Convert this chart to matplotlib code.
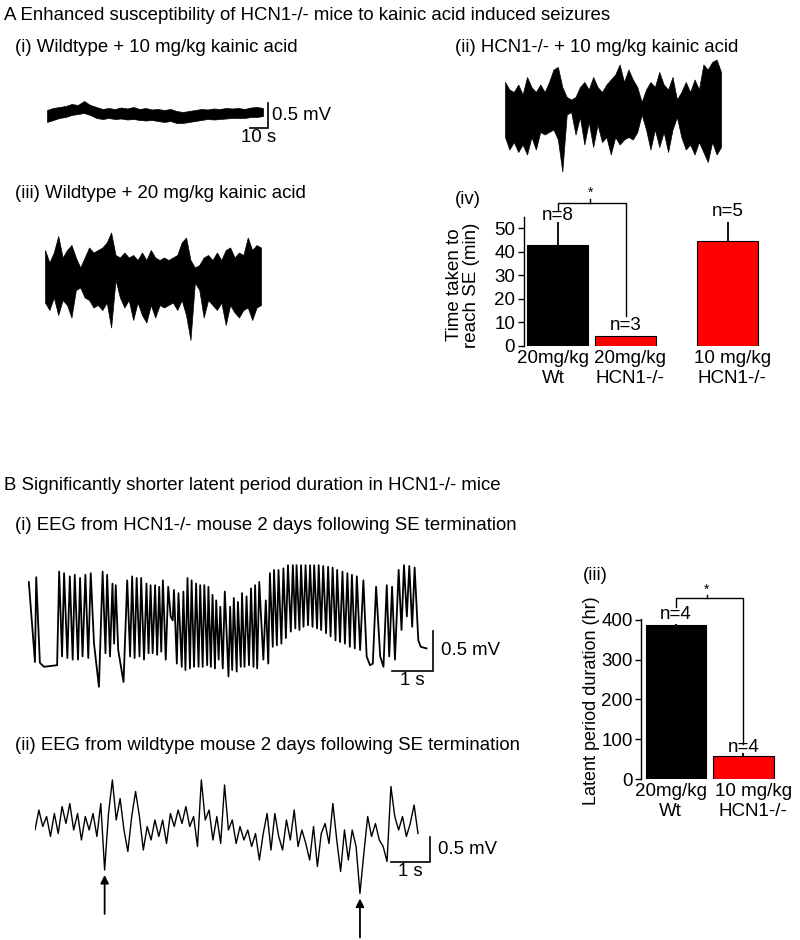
import matplotlib
matplotlib.use("Agg")
import matplotlib.pyplot as plt
import numpy as np

plt.rcParams['font.family'] = ['Liberation Sans', 'DejaVu Sans']

# --- A: EEG envelopes (mV) ---
a1_hi = [0.04, 0.08, 0.10, 0.12, 0.16, 0.14, 0.22, 0.14, 0.10, 0.06, 0.08, 0.06,
         0.09, 0.07, 0.10, 0.06, 0.08, 0.05, 0.06, 0.04, 0.06, 0.02, 0.00, 0.02,
         0.04, 0.06, 0.05, 0.07, 0.06, 0.08, 0.07, 0.08, 0.06, 0.09, 0.10, 0.08]
a1_lo = [-0.20, -0.16, -0.12, -0.10, -0.06, -0.04, -0.02, -0.06, -0.12, -0.14, -0.12, -0.14,
         -0.13, -0.15, -0.14, -0.16, -0.17, -0.16, -0.18, -0.20, -0.18, -0.22, -0.22, -0.20,
         -0.18, -0.16, -0.14, -0.15, -0.14, -0.13, -0.12, -0.12, -0.12, -0.10, -0.10, -0.08]

a2_hi = [0.50, 0.35, 0.30, 0.45, 0.25, 0.60, 0.40, 0.30, 0.45, 0.30,
         0.50, 0.75, 0.80, 0.40, 0.20, 0.15, 0.20, 0.40, 0.50, 0.35,
         0.60, 0.40, 0.30, 0.45, 0.55, 0.65, 0.85, 0.50, 0.75, 0.55,
         0.40, 0.10, 0.35, 0.50, 0.40, 0.70, 0.45, 0.35, 0.60, 0.15,
         0.30, 0.50, 0.30, 0.55, 0.35, 0.85, 0.75, 0.90, 0.95, 0.70]
a2_lo = [-0.60, -0.85, -0.70, -0.90, -0.75, -0.95, -0.60, -0.85, -0.50, -0.55,
         -0.50, -0.45, -0.65, -1.29, -0.15, -0.10, -0.55, -0.20, -0.75, -0.30,
         -0.80, -0.35, -0.70, -0.60, -0.95, -0.60, -0.75, -0.65, -0.60, -0.65,
         -0.50, -0.15, -0.45, -0.85, -0.45, -0.80, -0.50, -0.90, -0.45, -0.20,
         -0.60, -0.85, -0.75, -0.95, -0.70, -0.90, -1.10, -0.70, -0.95, -0.80]

a3_hi = [0.50, 0.25, 0.45, 0.78, 0.35, 0.50, 0.60, 0.35, 0.15, 0.35,
         0.55, 0.45, 0.50, 0.55, 0.65, 0.85, 0.40, 0.35, 0.45, 0.35,
         0.40, 0.30, 0.45, 0.30, 0.50, 0.35, 0.30, 0.35, 0.30, 0.35,
         0.40, 0.65, 0.75, 0.30, 0.15, 0.20, 0.35, 0.40, 0.30, 0.45,
         0.30, 0.50, 0.55, 0.35, 0.45, 0.40, 0.75, 0.50, 0.60, 0.55]
a3_lo = [-0.55, -0.70, -0.45, -0.80, -0.50, -0.60, -0.85, -0.30, -0.25, -0.45,
         -0.50, -0.65, -0.60, -0.70, -0.55, -1.05, -0.10, -0.45, -0.65, -0.50,
         -0.90, -0.55, -0.80, -0.95, -0.60, -0.85, -0.60, -0.65, -0.60, -0.55,
         -0.70, -0.50, -0.80, -1.30, -0.15, -0.30, -0.85, -0.50, -0.60, -0.70,
         -0.55, -1.00, -0.60, -0.75, -0.85, -0.70, -0.65, -0.90, -0.65, -0.60]

# --- B(i): peaks / troughs of HCN1-/- EEG (s, mV) ---
b1_t = [0.02, 0.17, 0.20, 0.29, 0.39, 0.71, 0.76, 0.83, 0.88, 0.96,
        1.02, 1.09, 1.14, 1.22, 1.27, 1.33, 1.40, 1.47, 1.53, 1.61,
        1.73, 1.82, 1.89, 1.93, 2.00, 2.06, 2.10, 2.14, 2.20, 2.33,
        2.42, 2.49, 2.54, 2.60, 2.65, 2.72, 2.76, 2.83, 2.89, 2.94,
        2.99, 3.04, 3.10, 3.15, 3.20, 3.25, 3.29, 3.36, 3.42, 3.48,
        3.53, 3.56, 3.63, 3.67, 3.75, 3.79, 3.84, 3.89, 3.95, 3.99,
        4.05, 4.10, 4.16, 4.20, 4.26, 4.30, 4.37, 4.40, 4.46, 4.50,
        4.56, 4.59, 4.65, 4.69, 4.75, 4.80, 4.89, 4.93, 4.98, 5.02,
        5.09, 5.12, 5.19, 5.22, 5.28, 5.33, 5.39, 5.44, 5.50, 5.54,
        5.59, 5.64, 5.74, 5.80, 5.86, 5.90, 5.97, 6.00, 6.07, 6.11,
        6.18, 6.23, 6.29, 6.34, 6.41, 6.46, 6.52, 6.55, 6.62, 6.66,
        6.72, 6.77, 6.83, 6.88, 6.94, 6.98, 7.05, 7.09, 7.15, 7.20,
        7.27, 7.32, 7.38, 7.43, 7.50, 7.54, 7.61, 7.67, 7.73, 7.79,
        7.85, 7.90, 7.97, 8.02, 8.10, 8.18, 8.26, 8.34, 8.41, 8.49,
        8.59, 8.67, 8.75, 8.81, 8.88, 8.95, 9.04, 9.11, 9.17, 9.24,
        9.30, 9.37, 9.43, 9.52, 9.58, 9.72]
b1_v = [0.85, -0.15, 0.91, -0.16, -0.21, -0.19, 0.98, -0.08, 0.96, -0.10,
        0.92, -0.12, 0.94, -0.12, 0.90, -0.08, 0.94, -0.10, 0.96, 0.08,
        -0.46, 0.98, -0.04, 0.94, -0.08, 0.83, 0.08, 0.81, 0.00, -0.40,
        0.87, -0.08, 0.92, -0.10, 0.90, -0.08, 0.90, -0.12, 0.83, -0.04,
        0.81, -0.04, 0.81, -0.06, 0.79, -0.02, 0.87, -0.12, 0.79, 0.42,
        0.37, 0.75, -0.17, 0.71, -0.21, 0.73, -0.25, 0.90, -0.23, 0.87,
        -0.21, 0.83, -0.21, 0.81, -0.21, 0.81, -0.19, 0.79, -0.21, 0.69,
        -0.23, 0.62, -0.12, 0.54, -0.23, 0.73, -0.33, 0.54, -0.25, 0.65,
        -0.27, 0.60, -0.21, 0.71, -0.21, 0.67, -0.19, 0.77, -0.21, 0.81,
        -0.23, 0.85, -0.12, 0.62, -0.17, 0.96, 0.04, 1.00, 0.06, 1.00,
        0.08, 1.02, 0.15, 1.06, 0.23, 1.06, 0.27, 1.06, 0.25, 1.06,
        0.29, 1.06, 0.31, 1.06, 0.29, 1.06, 0.27, 1.06, 0.25, 1.05,
        0.21, 1.04, 0.17, 1.03, 0.12, 1.00, 0.10, 0.98, 0.08, 0.96,
        0.04, 0.94, 0.02, 0.92, 0.00, 0.87, -0.08, -0.19, -0.17, 0.79,
        -0.08, -0.21, 0.81, -0.08, 0.79, -0.12, 1.00, 0.25, 1.06, 0.42,
        1.05, 0.29, 1.03, 0.12, 0.04, 0.02]

# --- B(ii): wildtype EEG samples (mV) ---
b2_v = [-0.06, 0.34, 0.01, 0.21, -0.19, 0.27, -0.13, 0.41, 0.07, 0.47,
        -0.06, 0.27, -0.26, 0.21, -0.06, 0.27, -0.19, 0.47, -0.86, 0.27,
        0.94, 0.14, 0.57, -0.06, -0.49, 0.21, 0.71, 0.21, -0.46, 0.01,
        -0.26, 0.14, -0.19, 0.14, -0.33, 0.27, 0.01, 0.34, 0.07, 0.41,
        0.01, 0.21, -0.39, 0.94, 0.14, 0.34, -0.26, 0.21, -0.33, 0.84,
        -0.06, 0.14, -0.33, 0.01, -0.26, -0.06, -0.39, -0.13, -0.66, -0.13,
        0.27, -0.46, 0.27, -0.19, -0.46, 0.14, -0.26, 0.34, -0.39, -0.06,
        -0.33, -0.66, 0.01, -0.79, -0.13, 0.07, -0.33, 0.47, -0.26, -0.89,
        -0.06, -0.66, -0.06, -0.39, -1.33, -0.53, 0.21, -0.19, 0.07, -0.26,
        -0.39, -0.69, 0.81, 0.21, -0.06, 0.21, -0.19, 0.07, 0.44, -0.13]
b2_arrows = [18, 84]  # samples marked by arrows

# --- bar charts ---
iv_labels = ['20mg/kg\nWt', '20mg/kg\nHCN1-/-', '10 mg/kg\nHCN1-/-']
iv_pos = [0, 1, 2.5]
iv_vals = [43, 4.3, 44.5]
iv_err = [9.5, 0, 8]
iv_n = ['n=8', 'n=3', 'n=5']

iii_labels = ['20mg/kg\nWt', '10 mg/kg\nHCN1-/-']
iii_pos = [0, 1]
iii_vals = [388, 58]
iii_err = [3, 7]
iii_n = ['n=4', 'n=4']

W, H = 800, 940
fig = plt.figure(figsize=(W / 100, H / 100), dpi=100)
FS = 13.4
CFS = 13.5


def ftext(px, py, s, **kw):
    kw.setdefault('fontsize', FS)
    kw.setdefault('va', 'center')
    fig.text(px / W, 1 - py / H, s, **kw)


def trace_ax(x0, x1, y0, y1, base, px_s, px_mv):
    ax = fig.add_axes([x0 / W, 1 - y1 / H, (x1 - x0) / W, (y1 - y0) / H])
    ax.set_xlim(0, (x1 - x0) / px_s)
    ax.set_ylim((base - y1) / px_mv, (base - y0) / px_mv)
    ax.axis('off')
    return ax


def scalebar(ax, t, v, dt, dv, tlabel, vlabel):
    ax.plot([t - dt, t, t], [v, v, v + dv], color='black', lw=1.2,
            solid_joinstyle='miter', clip_on=False)
    ax.text(t + 0.2 * dt, v + dv / 2, vlabel, fontsize=FS, va='center', ha='left')
    ax.text(t - dt / 2, v - 0.04 * dv, tlabel, fontsize=FS, va='top', ha='center')


def envelope(ax, hi, lo, dur):
    t = np.linspace(0, dur, len(hi))
    ax.fill_between(t, lo, hi, color='black', lw=0.5)


# titles
ftext(4, 15, 'A Enhanced susceptibility of HCN1-/- mice to kainic acid induced seizures')
ftext(15, 47, '(i) Wildtype + 10 mg/kg kainic acid')
ftext(455, 47, '(ii) HCN1-/- + 10 mg/kg kainic acid')
ftext(15, 193, '(iii) Wildtype + 20 mg/kg kainic acid')
ftext(455, 200, '(iv)')
ftext(4, 486, 'B Significantly shorter latent period duration in HCN1-/- mice')
ftext(15, 525, '(i) EEG from HCN1-/- mouse 2 days following SE termination')
ftext(15, 745, '(ii) EEG from wildtype mouse 2 days following SE termination')
ftext(583, 576, '(iii)')

# A(i)
ax = trace_ax(47, 300, 85, 145, 112, 1.8, 50)
envelope(ax, a1_hi, a1_lo, 120)
scalebar(ax, 122.8, -0.32, 10, 0.5, '10 s', '0.5 mV')

# A(ii)
ax = trace_ax(505, 725, 50, 180, 107, 1.8, 50)
envelope(ax, a2_hi, a2_lo, 120)

# A(iii)
ax = trace_ax(45, 265, 225, 345, 275, 1.8, 50)
envelope(ax, a3_hi, a3_lo, 120)

# B(i)
ax = trace_ax(28, 480, 555, 700, 650, 41, 80)
ax.plot(b1_t, b1_v, color='black', lw=1.3)
scalebar(ax, 9.88, -0.26, 1, 0.5, '1 s', '0.5 mV')

# B(ii)
ax = trace_ax(35, 480, 760, 940, 827, 39, 50)
b2_t = np.linspace(0, 9.82, len(b2_v))
ax.plot(b2_t, b2_v, color='black', lw=1.0)
scalebar(ax, 10.13, -0.7, 1, 0.5, '1 s', '0.5 mV')
for i in b2_arrows:
    tip = b2_v[i] - 0.1
    ax.annotate('', xy=(b2_t[i], tip), xytext=(b2_t[i], tip - 0.78),
                arrowprops=dict(arrowstyle='-|>', color='black', lw=1.3,
                                mutation_scale=12, shrinkA=0, shrinkB=0))


def bar_panel(rect, pos, vals, errs, labels, label_pos, ns, n_y, colors,
              ylim, yticks, xlim):
    ax = fig.add_axes(rect)
    ax.bar(pos, vals, width=0.9, color=colors, edgecolor='black', lw=0.8, zorder=2)
    ax.errorbar(pos, vals, yerr=[np.zeros(len(vals)), errs], fmt='none',
                ecolor='black', elinewidth=1.3, capsize=0, zorder=1)
    for s in ['top', 'right', 'bottom']:
        ax.spines[s].set_visible(False)
    ax.spines['left'].set_linewidth(1.0)
    ax.set_xlim(*xlim)
    ax.set_ylim(*ylim)
    ax.set_yticks(yticks)
    ax.tick_params(axis='y', length=4, width=1, labelsize=CFS, pad=2)
    ax.set_xticks(label_pos)
    ax.set_xticklabels(labels, fontsize=CFS, linespacing=1.2)
    ax.tick_params(axis='x', length=0, pad=3)
    for p, n, y in zip(pos, ns, n_y):
        ax.text(p, y, n, ha='center', va='center', fontsize=CFS, clip_on=False)
    return ax


# A(iv)
ax = bar_panel([523.5 / W, 1 - 346 / H, 238 / W, 129 / H], iv_pos, iv_vals, iv_err,
               iv_labels, [-0.06, 1.07, 2.57], iv_n, [55.5, 8.6, 57.2],
               ['black', 'red', 'red'], (0, 54.7), [0, 10, 20, 30, 40, 50], (-0.5, 3.0))
ax.plot([0, 0, 1, 1], [57.6, 60.6, 60.6, 12.8], color='black', lw=1.0, clip_on=False)
ax.plot([0.48, 0.48], [60.6, 62.2], color='black', lw=1.0, clip_on=False)
ax.text(0.48, 62.0, '*', ha='center', va='bottom', fontsize=10, clip_on=False)
ftext(463, 285, 'Time taken to\nreach SE (min)', fontsize=CFS, rotation=90,
      ha='center', linespacing=1.05)

# B(iii)
ax = bar_panel([641 / W, 1 - 779 / H, 136 / W, 160 / H], iii_pos, iii_vals, iii_err,
               iii_labels, [-0.08, 1.15], iii_n, [413, 80], ['black', 'red'],
               (0, 402.5), [0, 100, 200, 300, 400], (-0.52, 1.5))
ax.plot([0, 0, 1, 1], [432, 455, 455, 88], color='black', lw=1.0, clip_on=False)
ax.plot([0.46, 0.46], [455, 462], color='black', lw=1.0, clip_on=False)
ax.text(0.46, 458, '*', ha='center', va='bottom', fontsize=10, clip_on=False)
ftext(591, 701, 'Latent period duration (hr)', fontsize=13, rotation=90, ha='center')

fig.savefig('out.png', dpi=100)
